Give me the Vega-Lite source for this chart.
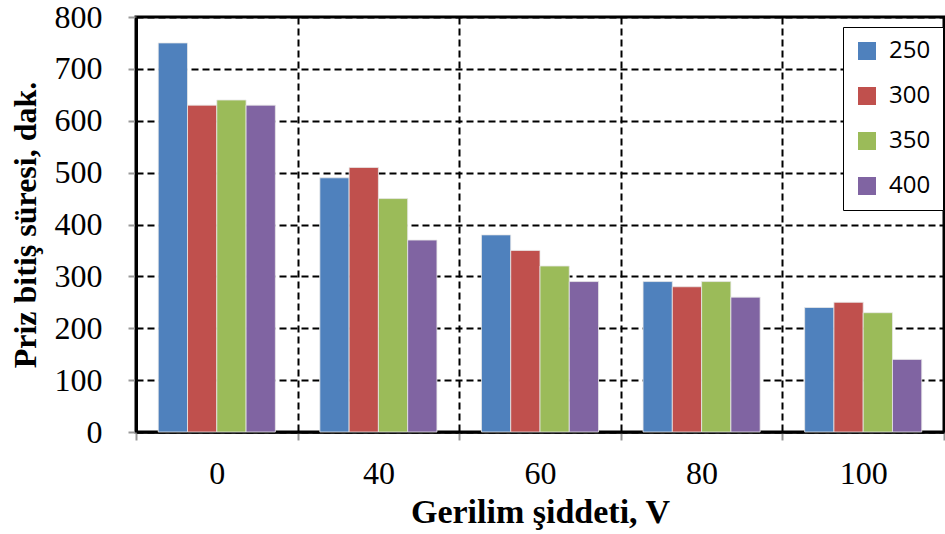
{
  "$schema": "https://vega.github.io/schema/vega-lite/v6.json",
  "width": 808,
  "height": 415,
  "autosize": "none",
  "padding": {"left": 136, "top": 17, "right": 1, "bottom": 102},
  "background": "white",
  "config": {
    "view": {"stroke": "black", "strokeWidth": 3},
    "axis": {"labelFont": "Liberation Serif", "titleFont": "Liberation Serif", "labelColor": "black", "titleColor": "black"}
  },
  "data": {
    "values": [
      {"V": "0", "s": "250", "t": 750}, {"V": "0", "s": "300", "t": 630}, {"V": "0", "s": "350", "t": 640}, {"V": "0", "s": "400", "t": 630},
      {"V": "40", "s": "250", "t": 490}, {"V": "40", "s": "300", "t": 510}, {"V": "40", "s": "350", "t": 450}, {"V": "40", "s": "400", "t": 370},
      {"V": "60", "s": "250", "t": 380}, {"V": "60", "s": "300", "t": 350}, {"V": "60", "s": "350", "t": 320}, {"V": "60", "s": "400", "t": 290},
      {"V": "80", "s": "250", "t": 290}, {"V": "80", "s": "300", "t": 280}, {"V": "80", "s": "350", "t": 290}, {"V": "80", "s": "400", "t": 260},
      {"V": "100", "s": "250", "t": 240}, {"V": "100", "s": "300", "t": 250}, {"V": "100", "s": "350", "t": 230}, {"V": "100", "s": "400", "t": 140}
    ]
  },
  "mark": {"type": "bar", "stroke": "#e8e8e8", "strokeWidth": 0.8},
  "encoding": {
    "x": {
      "field": "V", "type": "nominal", "sort": ["0", "40", "60", "80", "100"],
      "scale": {"paddingInner": 0, "paddingOuter": 0},
      "axis": {
        "title": "Gerilim şiddeti, V", "titleFontSize": 34, "titleFontWeight": "bold", "titlePadding": 6,
        "labelAngle": 0, "labelFontSize": 32, "labelPadding": 18,
        "tickBand": "extent", "tickSize": 8, "tickColor": "#999999", "tickWidth": 2,
        "grid": true, "gridColor": "black", "gridDash": [7, 4], "gridWidth": 2,
        "domainColor": "black", "domainWidth": 2.5
      }
    },
    "xOffset": {"field": "s", "type": "nominal", "scale": {"paddingInner": 0, "paddingOuter": 0.76}},
    "y": {
      "field": "t", "type": "quantitative",
      "scale": {"domain": [0, 800], "nice": false},
      "axis": {
        "title": "Priz bitiş süresi, dak.", "titleFontSize": 32, "titleFontWeight": "bold", "titlePadding": 12,
        "values": [0, 100, 200, 300, 400, 500, 600, 700, 800],
        "labelFontSize": 32, "labelPadding": 26,
        "tickSize": 8, "tickColor": "#999999", "tickWidth": 2,
        "grid": true, "gridColor": "black", "gridDash": [7, 4], "gridWidth": 2,
        "domainColor": "black", "domainWidth": 3
      }
    },
    "color": {
      "field": "s", "type": "nominal",
      "scale": {"domain": ["250", "300", "350", "400"], "range": ["#4F81BD", "#C0504D", "#9BBB59", "#8064A2"]},
      "legend": {
        "title": null, "orient": "none", "legendX": 707, "legendY": 10,
        "symbolType": "square", "symbolSize": 324, "symbolStrokeWidth": 0,
        "labelFont": "Open Sans", "labelFontSize": 24, "labelColor": "black",
        "rowPadding": 21, "padding": 12, "labelOffset": 10,
        "strokeColor": "black", "fillColor": "white"
      }
    }
  }
}
